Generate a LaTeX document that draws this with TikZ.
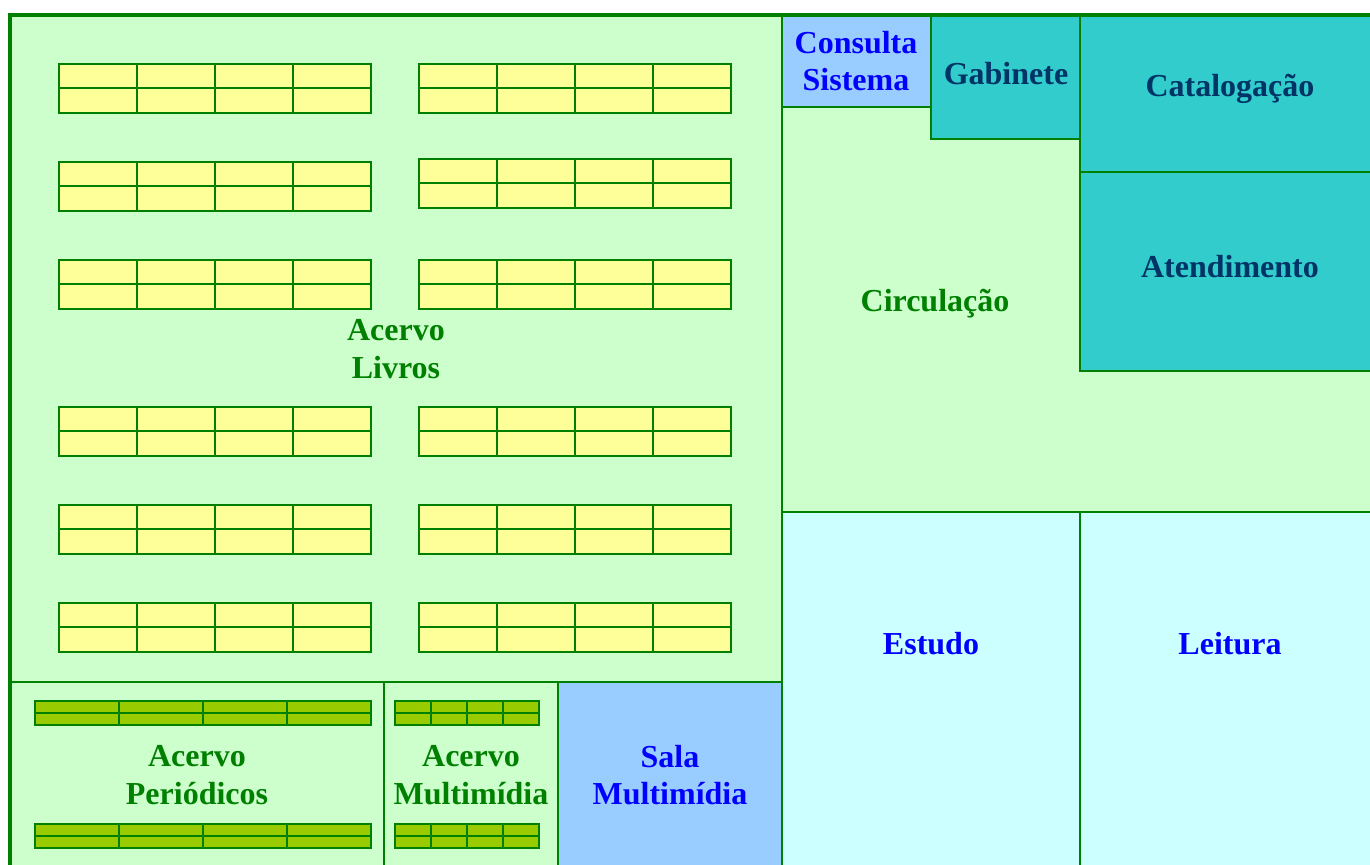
\documentclass[tikz,border=0pt]{standalone}
\usepackage{fontspec}
\setmainfont{Liberation Serif}
\usepackage{xcolor}
\definecolor{wallgreen}{HTML}{008000}
\definecolor{paleverde}{HTML}{CCFFCC}
\definecolor{shelfyellow}{HTML}{FFFF99}
\definecolor{shelfolive}{HTML}{99CC00}
\definecolor{roomteal}{HTML}{33CCCC}
\definecolor{roomblue}{HTML}{99CCFF}
\definecolor{roomcyan}{HTML}{CCFFFF}
\definecolor{navytext}{HTML}{003366}
\definecolor{bluetext}{HTML}{0000FF}

\tikzset{
    room/.style={draw=wallgreen, line width=1.25pt},
    shelfline/.style={draw=wallgreen, line width=1.2pt},
    roomlabel/.style={font=\fontsize{24}{28}\selectfont\bfseries, align=center, text=wallgreen, inner sep=0pt}
}

\begin{document}
\begin{tikzpicture}[x=0.75pt, y=-0.75pt]
        \clip (0, 0) rectangle (1370, 864);
        \fill[white] (0, 0) rectangle (1370, 864);

        % rooms
        \draw[room, fill=paleverde] (10, 15) rectangle (782, 682);
        \draw[room, fill=paleverde] (782, 15) rectangle (1380, 512);
        \draw[room, fill=paleverde] (10, 682) rectangle (384, 880);
        \draw[room, fill=paleverde] (384, 682) rectangle (558, 880);
        \draw[room, fill=roomblue] (558, 682) rectangle (782, 880);
        \draw[room, fill=roomblue] (782, 15) rectangle (931, 107);
        \draw[room, fill=roomteal] (931, 15) rectangle (1080, 139);
        \draw[room, fill=roomteal] (1080, 15) rectangle (1380, 172);
        \draw[room, fill=roomteal] (1080, 172) rectangle (1380, 371);
        \draw[room, fill=roomcyan] (782, 512) rectangle (1080, 880);
        \draw[room, fill=roomcyan] (1080, 512) rectangle (1380, 880);

        % book shelves
        \foreach \sx/\sy in {59/64, 59/162, 59/260, 59/407, 59/505, 59/603,
                             419/64, 419/159, 419/260, 419/407, 419/505, 419/603} {
            \draw[shelfline, fill=shelfyellow] (\sx, \sy) rectangle ++(312, 49);
            \draw[shelfline] (\sx, \sy + 24) -- ++(312, 0);
            \foreach \c in {78, 156, 234}
                \draw[shelfline] (\sx + \c, \sy) -- ++(0, 49);
        }

        % periodical shelves
        \foreach \sy in {701, 824} {
            \draw[shelfline, fill=shelfolive] (35, \sy) rectangle ++(336, 24);
            \draw[shelfline] (35, \sy + 12) -- ++(336, 0);
            \foreach \c in {84, 168, 252}
                \draw[shelfline] (35 + \c, \sy) -- ++(0, 24);
        }

        % multimedia shelves
        \foreach \sy in {701, 824} {
            \draw[shelfline, fill=shelfolive] (395, \sy) rectangle ++(144, 24);
            \draw[shelfline] (395, \sy + 12) -- ++(144, 0);
            \foreach \c in {36, 72, 108}
                \draw[shelfline] (395 + \c, \sy) -- ++(0, 24);
        }

        % outer wall
        \draw[wallgreen, line width=2.6pt] (10, 880) -- (10, 15) -- (1380, 15);

        \node[roomlabel] (livros) at (396, 349) {Acervo\\Livros};
        \node[roomlabel] (periodicos) at (197, 775) {Acervo\\Periódicos};
        \node[roomlabel] (multimidia) at (471, 775) {Acervo\\Multimídia};
        \node[roomlabel, text=bluetext] (sala) at (670, 775) {Sala\\Multimídia};
        \node[roomlabel, text=bluetext] (consulta) at (856, 61) {Consulta\\Sistema};
        \node[roomlabel, text=navytext] (gabinete) at (1006, 74) {Gabinete};
        \node[roomlabel, text=navytext] (catalogacao) at (1230, 89) {Catalogação};
        \node[roomlabel, text=navytext] (atendimento) at (1230, 267) {Atendimento};
        \node[roomlabel] (circulacao) at (935, 304) {Circulação};
        \node[roomlabel, text=bluetext] (estudo) at (931, 644) {Estudo};
        \node[roomlabel, text=bluetext] (leitura) at (1230, 644) {Leitura};
    \end{tikzpicture}
\end{document}
